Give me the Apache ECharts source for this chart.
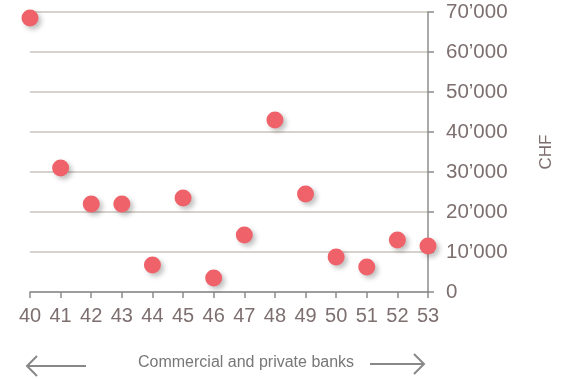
<!DOCTYPE html>
<html>
<head>
<meta charset="utf-8">
<script src="https://cdn.jsdelivr.net/npm/echarts@6/dist/echarts.min.js"></script>
<style>
  html, body { margin: 0; padding: 0; background: #fff; }
  #main { width: 569px; height: 379px; }
</style>
</head>
<body>
<div id="main"></div>
<script>
// bank number (x) and value in CHF (y)
var banks = [40, 41, 42, 43, 44, 45, 46, 47, 48, 49, 50, 51, 52, 53];
var values = [68500, 31000, 22000, 22000, 6750, 23500, 3500, 14250, 43000, 24500, 8750, 6250, 13000, 11500];
var yTicks = [0, 10000, 20000, 30000, 40000, 50000, 60000, 70000];

var labelColor = '#7d6f6f';
var axisColor = '#8c8c8c';

function fmt(v) {
  if (v === 0) return '0';
  var s = String(v);
  return s.slice(0, s.length - 3) + '\u2019' + s.slice(s.length - 3);
}

var points = [];
for (var i = 0; i < banks.length; i++) {
  points.push([banks[i], values[i]]);
}

var myChart = echarts.init(document.getElementById('main'));
myChart.setOption({
  animation: false,
  textStyle: { fontFamily: 'Liberation Sans' },
  grid: { left: 30, right: 141, top: 12, bottom: 87 },
  xAxis: {
    type: 'value',
    min: 40, max: 53, interval: 1,
    axisLine: { lineStyle: { color: axisColor, width: 1.5 } },
    axisTick: { show: true, length: 6, lineStyle: { color: axisColor, width: 1.5 } },
    axisLabel: { color: labelColor, fontSize: 20, margin: 14 },
    splitLine: { show: false }
  },
  yAxis: {
    type: 'value',
    position: 'right',
    min: yTicks[0], max: yTicks[yTicks.length - 1], interval: 10000,
    name: 'CHF',
    nameLocation: 'middle',
    nameRotate: 90,
    nameGap: 110,
    nameTextStyle: { color: labelColor, fontSize: 17 },
    axisLine: { show: true, lineStyle: { color: axisColor, width: 1.5 } },
    axisTick: { show: true, length: 6, lineStyle: { color: axisColor, width: 1.5 } },
    axisLabel: { color: labelColor, fontSize: 20.5, margin: 18, formatter: fmt },
    splitLine: { show: true, lineStyle: { color: '#d8d2cc', width: 2 } }
  },
  series: [{
    type: 'scatter',
    data: points,
    symbolSize: 17,
    itemStyle: {
      color: '#f0626a',
      opacity: 1,
      shadowColor: 'rgba(0,0,0,0.25)',
      shadowBlur: 5,
      shadowOffsetX: 3,
      shadowOffsetY: 3
    }
  }],
  graphic: [
    {
      type: 'text', left: 138, top: 355,
      style: { text: 'Commercial and private banks', fill: '#777777', fontSize: 16, fontFamily: 'Liberation Sans' }
    },
    {
      type: 'polyline',
      shape: { points: [[27, 366], [86, 366]] },
      style: { stroke: '#888', lineWidth: 2, fill: null }
    },
    {
      type: 'polyline',
      shape: { points: [[37, 356], [27, 366], [37, 376]] },
      style: { stroke: '#888', lineWidth: 2, fill: null }
    },
    {
      type: 'polyline',
      shape: { points: [[370, 364], [424, 364]] },
      style: { stroke: '#888', lineWidth: 2, fill: null }
    },
    {
      type: 'polyline',
      shape: { points: [[414, 354], [424, 364], [414, 374]] },
      style: { stroke: '#888', lineWidth: 2, fill: null }
    }
  ]
});
</script>
</body>
</html>
